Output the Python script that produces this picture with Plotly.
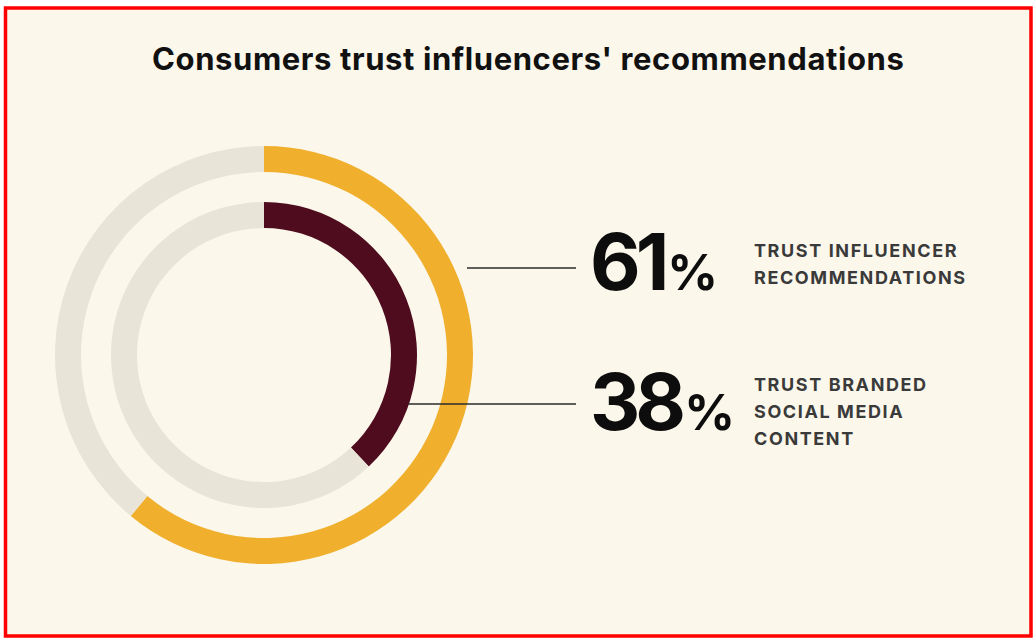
import plotly.graph_objects as go

W, H = 1036, 644

title_text = "Consumers trust influencers' recommendations"
series_names = ["Trust influencer recommendations", "Trust branded social media content"]
values = [61, 38]
label_lines = [["TRUST INFLUENCER", "RECOMMENDATIONS"],
               ["TRUST BRANDED", "SOCIAL MEDIA", "CONTENT"]]

BG = "#FBF7EB"
TRACK = "#E8E4D8"
YELLOW = "#F0AF2D"
MAROON = "#4E0C1E"

def px(x):
    return x / W

def py(y):
    return 1 - y / H

cx, cy = 264, 355
rings = [
    dict(r_out=209, r_in=183, color=YELLOW),
    dict(r_out=153, r_in=127, color=MAROON),
]

fig = go.Figure()
for v, ring, name in zip(values, rings, series_names):
    r = ring["r_out"]
    fig.add_trace(go.Pie(
        values=[v, 100 - v],
        labels=[name, "Other"],
        sort=False,
        direction="clockwise",
        rotation=0,
        hole=ring["r_in"] / r,
        marker=dict(colors=[ring["color"], TRACK], line=dict(width=0)),
        textinfo="none",
        hoverinfo="label+value",
        showlegend=False,
        domain=dict(x=[px(cx - r), px(cx + r)], y=[py(cy + r), py(cy - r)]),
    ))

shapes = [
    dict(type="rect", xref="paper", yref="paper",
         x0=px(5.5), x1=px(1031), y0=py(636), y1=py(8),
         fillcolor=BG, line=dict(color="#FF0000", width=3.5), layer="below"),
    dict(type="line", xref="paper", yref="paper",
         x0=px(467), x1=px(576), y0=py(268), y1=py(268),
         line=dict(color="#2b2b2b", width=1.6), layer="above"),
    dict(type="line", xref="paper", yref="paper",
         x0=px(408), x1=px(576), y0=py(404), y1=py(404),
         line=dict(color="#2b2b2b", width=1.6), layer="above"),
]

annotations = [
    dict(text="<b><span style='letter-spacing:0.6px'>" + title_text + "</span></b>",
         xref="paper", yref="paper",
         x=px(528), y=py(59), xanchor="center", yanchor="middle",
         showarrow=False, font=dict(family="Inter", size=31, color="#111111")),
]

pct_y = [262, 401]
lab_y = [[250, 277], [384, 411, 438]]
for v, yc, lines, ly in zip(values, pct_y, label_lines, lab_y):
    s = str(v)
    annotations.append(dict(
        text=(f"<b><span style='letter-spacing:-5px'>{s[:-1]}</span>"
              f"<span style='letter-spacing:-2px'>{s[-1]}</span>"
              f"<span style='font-size:50px'>%</span></b>"),
        xref="paper", yref="paper", x=px(588), y=py(yc),
        xanchor="left", yanchor="middle", showarrow=False,
        font=dict(family="Inter", size=78, color="#0d0d0d")))
    for line, yy in zip(lines, ly):
        annotations.append(dict(
            text=f"<b><span style='letter-spacing:1.6px'>{line}</span></b>",
            xref="paper", yref="paper", x=px(752), y=py(yy),
            xanchor="left", yanchor="middle", showarrow=False,
            font=dict(family="Inter", size=18, color="#3a3a3a")))

fig.update_layout(
    width=W, height=H,
    margin=dict(l=0, r=0, t=0, b=0),
    paper_bgcolor="white",
    plot_bgcolor="white",
    shapes=shapes,
    annotations=annotations,
)

fig.write_html("out.html", config={"displayModeBar": False},
               post_script="document.body.style.margin='0';")
